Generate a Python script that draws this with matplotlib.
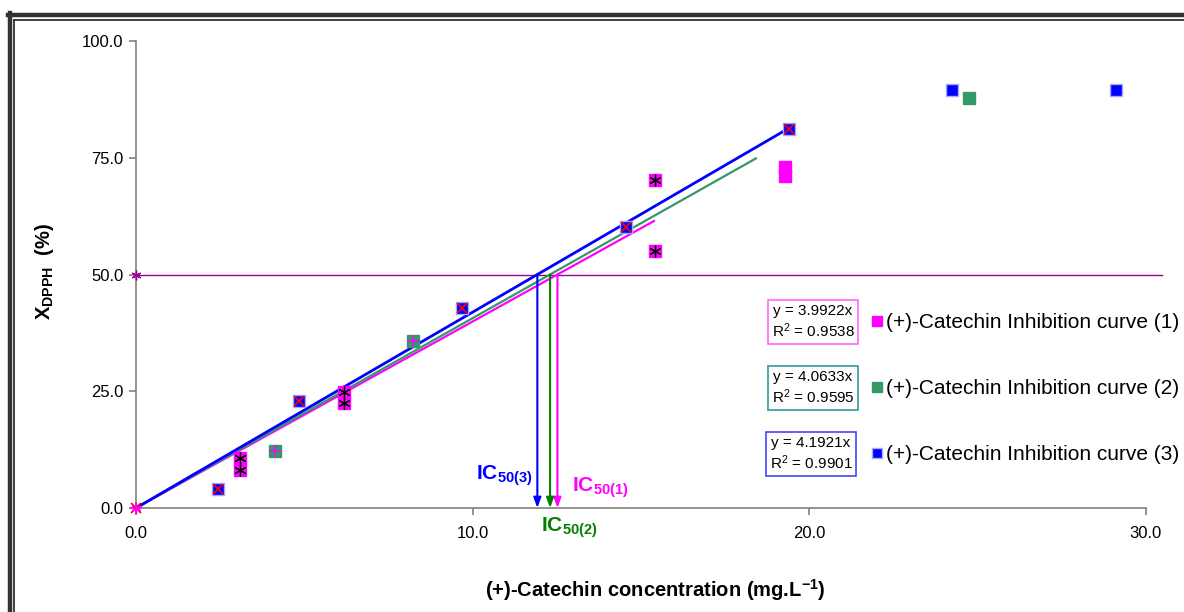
import numpy as np
import matplotlib
matplotlib.use("Agg")
import matplotlib.pyplot as plt
from matplotlib.lines import Line2D

plt.rcParams['font.family'] = ['Liberation Sans', 'DejaVu Sans']
plt.rcParams['mathtext.fontset'] = 'custom'
plt.rcParams['mathtext.rm'] = 'Liberation Sans'
plt.rcParams['mathtext.bf'] = 'Liberation Sans:bold'
plt.rcParams['mathtext.it'] = 'Liberation Sans:italic'

# measured points, (+)-catechin conc. (mg/L) vs DPPH inhibition (%)
x1 = [0.0, 3.09, 3.09, 6.17, 6.17, 15.42, 15.42, 19.29, 19.29]
y1 = [0.0, 10.7, 8.1, 24.8, 22.5, 70.2, 55.0, 73.0, 71.0]
x2 = [0.0, 4.13, 8.22, 24.74]
y2 = [0.0, 12.1, 35.8, 87.9]
x3 = [0.0, 2.44, 4.84, 9.70, 14.55, 19.41, 24.26, 29.12]
y3 = [0.0, 4.1, 23.0, 42.9, 60.1, 81.2, 89.5, 89.6]

# trend line slopes / R2 and the x where each fitted range stops
slopes = [3.9922, 4.0633, 4.1921]
r2 = [0.9538, 0.9595, 0.9901]
fit_end = [15.42, 18.45, 19.41]
names = ['(+)-Catechin Inhibition curve (1)',
         '(+)-Catechin Inhibition curve (2)',
         '(+)-Catechin Inhibition curve (3)']
ic_labels = ['1', '2', '3']

colors = ['#FF00FF', '#339966', '#0000FF']
box_edges = ['#FF66FF', '#339999', '#4444FF']
arrow_cols = ['#FF00FF', '#008000', '#0000FF']
half = 50.0

W, H = 1184, 612
fig = plt.figure(figsize=(W / 100, H / 100), dpi=100)
ax = fig.add_axes([136 / W, 1 - 508 / H, (1145.5 - 136) / W, (508 - 41) / H])

def fx(px):
    return px / W

def fy(py):
    return 1 - py / H

# squares first, then the overlay markers on top
ax.plot(x1[1:], y1[1:], 's', color=colors[0], ms=8.5, mec=colors[0], zorder=3)
ax.plot(x2[1:], y2[1:], 's', color=colors[1], ms=8.5, mec=colors[1], zorder=3)
ax.plot(x3[1:], y3[1:], 's', color=colors[2], ms=8.5, mec='#A8A8FF', mew=1, zorder=3)

ax.plot(x1[1:7], y1[1:7], marker=(6, 2, 0), ls='none', color='black', ms=8.5, mew=0.9, zorder=4)
ax.plot(x2[:3], y2[:3], '+', color='#FF00FF', ms=9, mew=1.2, zorder=4, clip_on=False)
ax.plot(x3[:6], y3[:6], 'x', color='#FF0000', ms=7.5, mew=1.2, zorder=5, clip_on=False)
ax.plot(x1[:1], y1[:1], marker=(6, 2, 0), ls='none', color='#FF00FF', ms=7, mew=0.9,
        zorder=6, clip_on=False)

# linear fits through the origin
for k in [0, 1, 2]:
    xs = np.array([0.0, fit_end[k]])
    lw = 2.0 if k == 2 else 1.6
    ax.plot(xs, slopes[k] * xs, color=colors[k], lw=lw, zorder=2, solid_capstyle='butt')

# 50 % line
ax.plot([0, 30.5], [half, half], color='#990099', lw=1, clip_on=False, zorder=1)
ax.plot([0], [half], marker=(6, 2, 0), color='#990099', ms=7, mew=1, clip_on=False, zorder=6)

# IC50 drop arrows
for k in [0, 1, 2]:
    xc = half / slopes[k]
    ax.annotate('', xy=(xc, 0), xytext=(xc, half),
                arrowprops=dict(arrowstyle='-|>,head_length=0.6,head_width=0.22',
                                color=arrow_cols[k], lw=1.5, shrinkA=0, shrinkB=0),
                zorder=2)

ax.text(10.1, 4.2, r'IC$_{\mathbf{50(%s)}}$' % ic_labels[2], color=arrow_cols[2],
        fontsize=15, fontweight='bold', ha='left', va='bottom')
ax.text(12.95, 1.8, r'IC$_{\mathbf{50(%s)}}$' % ic_labels[0], color=arrow_cols[0],
        fontsize=15, fontweight='bold', ha='left', va='bottom')
ax.text(12.05, -1.5, r'IC$_{\mathbf{50(%s)}}$' % ic_labels[1], color=arrow_cols[1],
        fontsize=15, fontweight='bold', ha='left', va='top')

ax.set_xlim(0, 30)
ax.set_ylim(0, 100)
ax.set_xticks([0, 10, 20, 30])
ax.set_yticks([0, 25, 50, 75, 100])
ax.xaxis.set_major_formatter(lambda v, p: '%.1f' % v)
ax.yaxis.set_major_formatter(lambda v, p: '%.1f' % v)
for s in ['top', 'right']:
    ax.spines[s].set_visible(False)
for s in ['left', 'bottom']:
    ax.spines[s].set_color('#808080')
    ax.spines[s].set_linewidth(1.2)
ax.tick_params(direction='out', length=5, width=1.2, color='#808080', labelsize=12, pad=4)
ax.tick_params(axis='x', pad=8)

fig.text(fx(655), fy(590), r'(+)-Catechin concentration (mg.L$^{\mathbf{-1}}$)',
         fontsize=14.5, fontweight='bold', ha='center', va='center')
fig.text(fx(44), fy(272), r'X$_{\mathbf{DPPH}}$  (%)', rotation=90,
         fontsize=14.5, fontweight='bold', ha='center', va='center')

# equation boxes and series keys on the right
rows = [322, 388, 454]
box_cx = [813, 813, 811]
for k in [0, 1, 2]:
    fig.text(fx(box_cx[k]), fy(rows[k]), 'y = %.4fx\nR$^2$ = %.4f' % (slopes[k], r2[k]),
             fontsize=11, ha='center', va='center', linespacing=1.25,
             bbox=dict(boxstyle='square,pad=0.25', fc='white', ec=box_edges[k], lw=1.2))
    fig.add_artist(Line2D([fx(877)], [fy(rows[k] - 1)], marker='s', ms=7.5,
                          color=colors[k], mec=colors[k] if k < 2 else '#A8A8FF',
                          transform=fig.transFigure))
    fig.text(fx(886), fy(rows[k]), names[k], fontsize=15, ha='left', va='center')

# double frame round the chart
fig.add_artist(Line2D([fx(8), fx(1184)], [fy(15), fy(15)], color='#333333', lw=3.2,
                      transform=fig.transFigure))
fig.add_artist(Line2D([fx(10), fx(10)], [fy(13), fy(612)], color='#333333', lw=3.2,
                      transform=fig.transFigure))
fig.add_artist(Line2D([fx(13.5), fx(1184)], [fy(20), fy(20)], color='#333333', lw=1.3,
                      transform=fig.transFigure))
fig.add_artist(Line2D([fx(14), fx(14)], [fy(19.5), fy(612)], color='#333333', lw=1.3,
                      transform=fig.transFigure))

fig.savefig('out.png', dpi=100)
